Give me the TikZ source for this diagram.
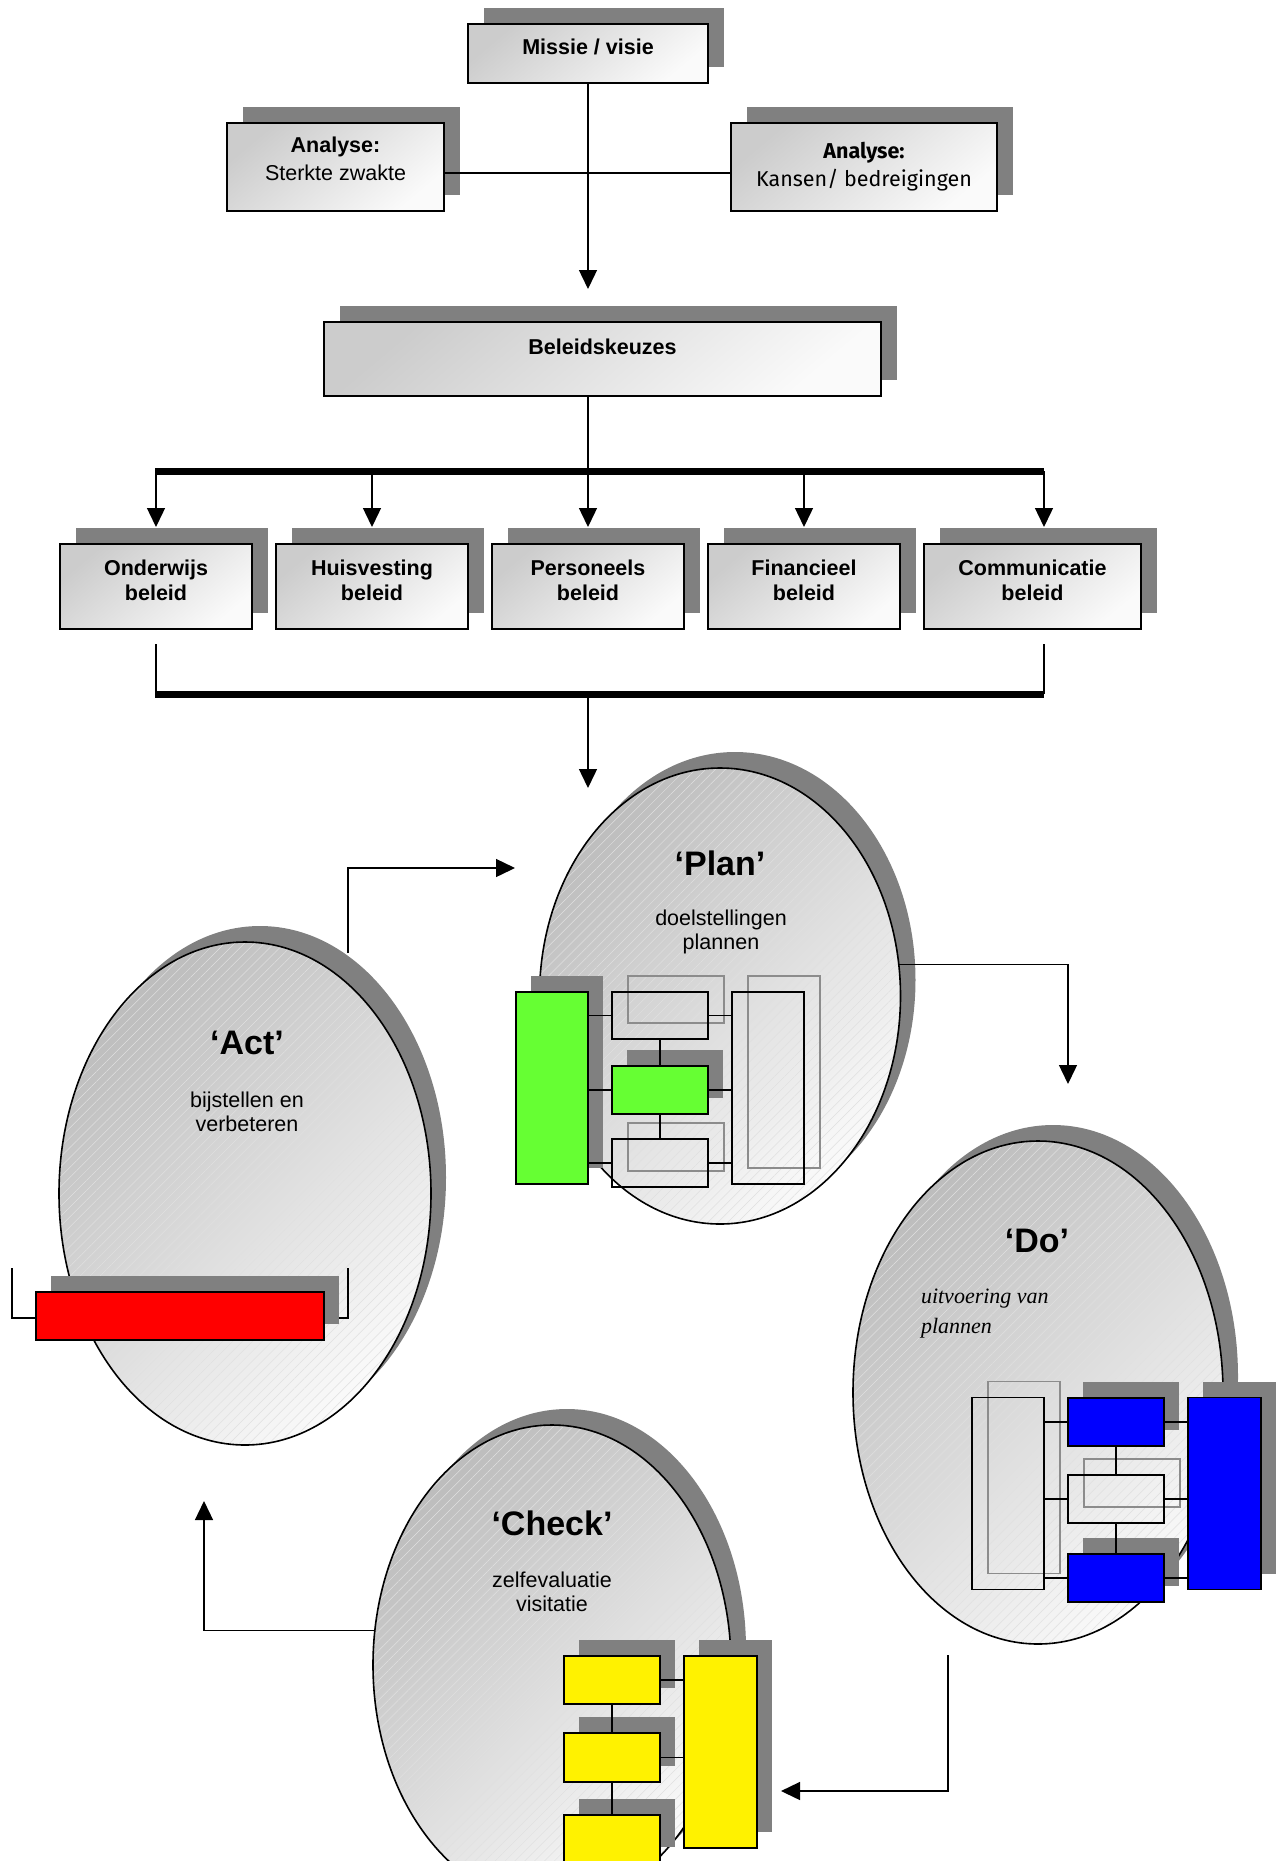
\documentclass[tikz,border=0pt]{standalone}
\usepackage{fontspec}
\setmainfont{Liberation Sans}
\newfontfamily\comicfont{Fira Sans}
\newfontfamily\timesfont{Liberation Serif}
\usetikzlibrary{arrows.meta,shapes.geometric,shadows,patterns.meta,calc}
\definecolor{shadowgray}{HTML}{808080}
\definecolor{plangreen}{HTML}{66FF33}
\begin{document}
\begin{tikzpicture}[x=1pt,y=-1pt,
  every node/.style={inner sep=0pt, outer sep=0pt},
  boxsh/.style={drop shadow={shadow xshift=16pt, shadow yshift=16pt, fill=shadowgray, opacity=1}},
  ellsh/.style={drop shadow={shadow xshift=15pt, shadow yshift=16pt, fill=shadowgray, opacity=1}},
  solidsh/.style={drop shadow={shadow xshift=15pt, shadow yshift=16pt, fill=shadowgray, opacity=1}},
  ghost/.style={general shadow={draw=black!45, line width=1.5pt, shadow xshift=16pt, shadow yshift=16pt}},
  cardbox/.style={rectangle, boxsh, draw, line width=1.6pt, top color=black!20, bottom color=black!2, shading angle=40, align=center, font=\bfseries\fontsize{21.5}{25}\selectfont},
  cardtext/.style={align=center, font=\bfseries\fontsize{21.5}{25}\selectfont},
  pdcaell/.style={ellipse, ellsh, preaction={top color=black!26, bottom color=black!2, shading angle=45}, pattern={Lines[angle=45, distance=7pt, line width=0.5pt]}, pattern color=black!12, draw, line width=1.6pt},
  cbox/.style={rectangle, draw, line width=1.5pt},
  conn/.style={line width=1.4pt},
  arr/.style={conn, -{Triangle[length=19pt, width=18pt]}},
  thickbar/.style={line width=7pt},
  titlef/.style={font=\bfseries\fontsize{34}{40}\selectfont},
  subf/.style={font=\fontsize{21.5}{24}\selectfont, align=center}
]
\useasboundingbox (0,0) rectangle (1281,1861);
\fill[white] (0,0) rectangle (1281,1861);

% ---------- top part ----------
\node[cardbox, minimum width=240pt, minimum height=59pt, text depth=13pt] (missie) at (588,53.5) {Missie / visie};
\node[cardbox, minimum width=217pt, minimum height=88pt] (anL) at (335.5,167) {};
\node[align=center, font=\fontsize{21.5}{28}\selectfont] (anLt) at ([yshift=8pt]anL.center) {{\bfseries Analyse:}\\{Sterkte zwakte}};
\node[cardbox, minimum width=266pt, minimum height=88pt, font=\comicfont\fontsize{21.5}{28}\selectfont] (anR) at (864,167) {{\bfseries Analyse:}\\{Kansen/ bedreigingen}};
\node[cardbox, minimum width=557pt, minimum height=74pt, text depth=25pt] (bel) at (602.5,359) {Beleidskeuzes};

\draw[conn] ([yshift=-6pt]anL.east) -- ([yshift=-6pt]anR.west);
\draw[arr] (missie.south) -- ($(missie.south |- bel.north)+(0,-33)$);

\node[cardbox, minimum width=192pt, minimum height=85pt] (b1) at (156,586.5) {};
\node[cardbox, minimum width=192pt, minimum height=85pt] (b2) at (372,586.5) {};
\node[cardbox, minimum width=192pt, minimum height=85pt] (b3) at (588,586.5) {};
\node[cardbox, minimum width=192pt, minimum height=85pt] (b4) at (804,586.5) {};
\node[cardbox, minimum width=217pt, minimum height=85pt] (b5) at (1032.5,586.5) {};
\node[cardtext] (b1t) at ([yshift=6pt]b1.center) {Onderwijs\\beleid};
\node[cardtext] (b2t) at ([yshift=6pt]b2.center) {Huisvesting\\beleid};
\node[cardtext] (b3t) at ([yshift=6pt]b3.center) {Personeels\\beleid};
\node[cardtext] (b4t) at ([yshift=6pt]b4.center) {Financieel\\beleid};
\node[cardtext] (b5t) at ([yshift=6pt]b5.center) {Communicatie\\beleid};

\coordinate (barL) at (155,471);
\coordinate (barR) at (1044,471);
\draw[conn] (missie.south |- bel.south) -- (missie.south |- barL);
\draw[thickbar] (barL) -- (barR);
\foreach \b in {b1,b2,b3,b4} \draw[arr] (\b.north |- barL) -- ([yshift=17pt]\b.north);
\draw[arr] (barR) -- ([yshift=17pt]b5.north -| barR);

\coordinate (brL) at (155,694);
\coordinate (brR) at (1044,694);
\draw[conn] ([yshift=-15pt]b1.south) -- (b1.south |- brL);
\draw[conn] ([yshift=-15pt]b5.south -| brR) -- (brR);
\draw[thickbar] (brL) -- (brR);
\coordinate (planIn) at (588,788);
\draw[arr] (brL -| b3.south) -- (planIn);

% ---------- PDCA ellipses ----------
\node[pdcaell, minimum width=372pt, minimum height=503pt] (actE) at (245,1193.5) {};
\node[pdcaell, minimum width=361pt, minimum height=456pt] (planE) at (720,996) {};
\node[pdcaell, minimum width=370pt, minimum height=503pt] (doE) at (1038,1392.5) {};
\node[pdcaell, minimum width=358pt, minimum height=480pt] (checkE) at (552,1665) {};

\node[titlef] (actT) at (247,1043) {‘Act’};
\node[subf] (actS) at (247,1112) {bijstellen en\\verbeteren};
\node[titlef] (planT) at (720,863) {‘Plan’};
\node[subf] (planS) at (721,932) {doelstellingen\\plannen};
\node[titlef] (doT) at (1037,1241) {‘Do’};
\node[anchor=west, align=left, font=\timesfont\itshape\fontsize{22}{30}\selectfont] (doS) at (921,1314) {uitvoering van\\plannen};
\node[titlef] (chkT) at (552,1523) {‘Check’};
\node[subf] (chkS) at (552,1592) {zelfevaluatie\\visitatie};

% ---------- Act content ----------
\draw[conn] (12,1268) |- (348,1318) -- (348,1268);
\node[cbox, solidsh, fill=red, minimum width=288pt, minimum height=48pt] (redbar) at (180,1316) {};

% ---------- Plan content ----------
\node[cbox, solidsh, fill=plangreen, minimum width=72pt, minimum height=192pt] (pg1) at (552,1088) {};
\node[cbox, ghost, minimum width=96pt, minimum height=47pt] (pb1) at (660,1015.5) {};
\node[cbox, solidsh, fill=plangreen, minimum width=96pt, minimum height=48pt] (pg2) at (660,1090) {};
\node[cbox, ghost, minimum width=96pt, minimum height=48pt] (pb3) at (660,1163) {};
\node[cbox, ghost, minimum width=72pt, minimum height=192pt] (pr) at (768,1088) {};
\foreach \n in {pb1,pg2,pb3} {
  \draw[conn] (pg1.east |- \n.west) -- (\n.west);
  \draw[conn] (\n.east) -- (pr.west |- \n.east);
}
\draw[conn] (pb1.south) -- (pg2.north);
\draw[conn] (pg2.south) -- (pb3.north);

% ---------- Do content ----------
\node[cbox, ghost, minimum width=72pt, minimum height=192pt] (dl) at (1008,1493.5) {};
\node[cbox, solidsh, fill=blue, minimum width=96pt, minimum height=48pt] (db1) at (1116,1422) {};
\node[cbox, ghost, minimum width=96pt, minimum height=48pt] (dw2) at (1116,1499) {};
\node[cbox, solidsh, fill=blue, minimum width=96pt, minimum height=48pt] (db3) at (1116,1578) {};
\node[cbox, solidsh, fill=blue, minimum width=73pt, minimum height=192pt] (dr) at (1224.5,1493.5) {};
\foreach \n in {db1,dw2,db3} {
  \draw[conn] (dl.east |- \n.west) -- (\n.west);
  \draw[conn] (\n.east) -- (dr.west |- \n.east);
}
\draw[conn] (db1.south) -- (dw2.north);
\draw[conn] (dw2.south) -- (db3.north);

% ---------- Check content ----------
\node[cbox, solidsh, fill=yellow, minimum width=96pt, minimum height=48pt] (y1) at (612,1680) {};
\node[cbox, solidsh, fill=yellow, minimum width=96pt, minimum height=49pt] (y2) at (612,1757.5) {};
\node[cbox, solidsh, fill=yellow, minimum width=96pt, minimum height=48pt] (y3) at (612,1839) {};
\node[cbox, solidsh, fill=yellow, minimum width=73pt, minimum height=192pt] (yt) at (720.5,1752) {};
\draw[conn] (y1.east) -- (yt.west |- y1.east);
\draw[conn] (y2.east) -- (yt.west |- y2.east);
\draw[conn] (y1.south) -- (y2.north);
\draw[conn] (y2.south) -- (y3.north);

% ---------- cycle arrows ----------
\coordinate (actOut) at (348,953);
\coordinate (planL) at (515,868);
\draw[arr] (actOut) |- (planL);
\coordinate (doIn) at (1068,1084);
\draw[arr] (planE.10) -| (doIn);
\coordinate (doOut) at (948,1655);
\coordinate (chkIn) at (781,1791);
\draw[arr] (doOut) |- (chkIn);
\coordinate (actIn) at (204,1501);
\draw[arr] (checkE.169) -| (actIn);
\end{tikzpicture}
\end{document}
